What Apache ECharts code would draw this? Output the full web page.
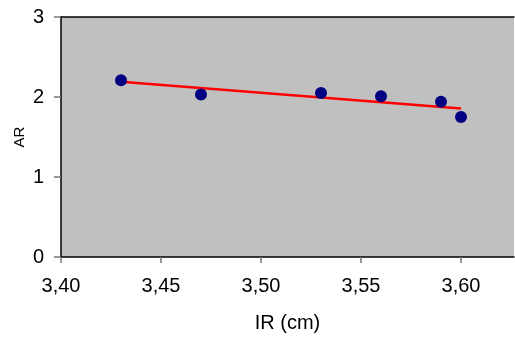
<!DOCTYPE html>
<html>
<head>
<meta charset="utf-8">
<script src="https://cdn.jsdelivr.net/npm/echarts@6/dist/echarts.min.js"></script>
<style>html,body{margin:0;padding:0;background:#fff;}#c{width:515px;height:338px;}</style>
</head>
<body>
<div id="c"></div>
<script>
var irValues = [3.43, 3.47, 3.53, 3.56, 3.59, 3.60];
var arValues = [2.21, 2.03, 2.05, 2.01, 1.94, 1.75];
var trendX = [3.43, 3.60];
var trendY = [2.19, 1.855];
var xTickLabels = ['3,40', '3,45', '3,50', '3,55', '3,60'];
var yTickLabels = ['0', '1', '2', '3'];

var font = 'Arial, "Liberation Sans", sans-serif';
var chart = echarts.init(document.getElementById('c'), null, {renderer: 'canvas'});
chart.setOption({
  animation: false,
  backgroundColor: '#ffffff',
  grid: {left: 61, top: 17, right: 1, bottom: 81, show: true, backgroundColor: '#C0C0C0', borderWidth: 0},
  xAxis: [{
    type: 'value', min: 3.40, max: 3.6265, interval: 0.05,
    name: 'IR (cm)', nameLocation: 'middle', nameGap: 56,
    nameTextStyle: {fontFamily: font, fontSize: 20, color: '#000'},
    axisLine: {show: true, onZero: false, lineStyle: {color: '#000', width: 1.5}},
    axisTick: {show: true, inside: false, length: 6, lineStyle: {color: '#777', width: 1.5}},
    axisLabel: {
      margin: 19, fontFamily: font, fontSize: 20, color: '#000', showMaxLabel: false,
      formatter: function (v) { var i = Math.round((v - 3.40) / 0.05); return xTickLabels[i] !== undefined && Math.abs(v - (3.40 + i * 0.05)) < 1e-6 ? xTickLabels[i] : ''; }
    },
    splitLine: {show: false}
  }, {
    type: 'value', position: 'top', min: 3.40, max: 3.6265,
    axisLine: {show: true, onZero: false, lineStyle: {color: '#000', width: 1.5}},
    axisTick: {show: false}, axisLabel: {show: false}, splitLine: {show: false}
  }],
  yAxis: {
    type: 'value', min: 0, max: 3, interval: 1,
    name: 'AR', nameLocation: 'middle', nameGap: 41, nameRotate: 90, nameMoveOverlap: false,
    nameTextStyle: {fontFamily: font, fontSize: 15, color: '#000', verticalAlign: 'middle'},
    axisLine: {show: true, onZero: false, lineStyle: {color: '#000', width: 1.5}},
    axisTick: {show: true, inside: false, length: 7, lineStyle: {color: '#777', width: 1.5}},
    axisLabel: {margin: 17, fontFamily: font, fontSize: 20, color: '#000',
      formatter: function (v) { return yTickLabels[Math.round(v)]; }},
    splitLine: {show: false}
  },
  series: [{
    type: 'line',
    data: trendX.map(function (x, i) { return [x, trendY[i]]; }),
    showSymbol: false, symbol: 'none',
    lineStyle: {color: '#FF0000', width: 2.5},
    z: 2
  }, {
    type: 'scatter',
    data: irValues.map(function (x, i) { return [x, arValues[i]]; }),
    symbol: 'circle', symbolSize: 12,
    itemStyle: {color: '#000080', opacity: 1},
    z: 3
  }]
});
</script>
</body>
</html>
